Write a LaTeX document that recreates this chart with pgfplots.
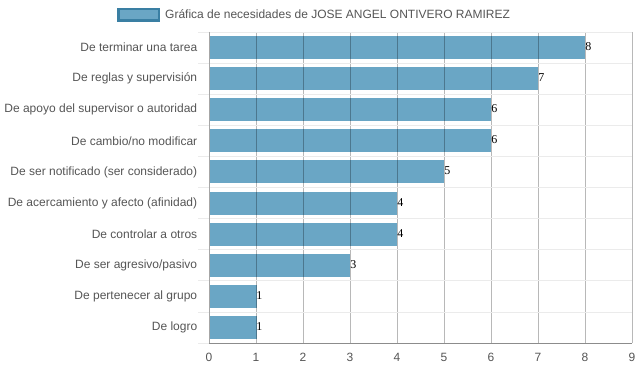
\documentclass[border=0pt]{standalone}
\usepackage{pgfplots}
\pgfplotsset{compat=1.18}
\usepackage{fontspec}
\setmainfont{Liberation Sans}
\newfontfamily\seriffont{Liberation Serif}
\definecolor{barc}{HTML}{6AA6C5}
\definecolor{barb}{HTML}{3A7FA3}
\definecolor{txt}{HTML}{555555}
\begin{document}
\begin{tikzpicture}[x=1pt,y=1pt]
\useasboundingbox (0,0) rectangle (639,372);
\begin{axis}[
  at={(209pt,29pt)}, anchor=south west,
  scale only axis, width=423pt, height=311pt,
  xbar, bar width=22pt,
  xmin=0, xmax=9, ymin=-0.5, ymax=9.5,
  y dir=reverse,
  xtick={0,1,...,9},
  ytick={0,1,...,9},
  yticklabels={De terminar una tarea,De reglas y supervisión,De apoyo del supervisor o autoridad,De cambio/no modificar,De ser notificado (ser considerado),De acercamiento y afecto (afinidad),De controlar a otros,De ser agresivo/pasivo,De pertenecer al grupo,De logro},
  minor ytick={-0.5,0.5,...,9.5},
  xmajorgrids=true, yminorgrids=true,
  major grid style={draw=black, opacity=0.28, line width=0.8pt},
  minor grid style={draw=black!8, line width=0.8pt},
  major y tick style={draw=none},
  minor y tick style={draw=black!8, line width=0.8pt},
  minor tick length=11pt,
  major x tick style={draw=none},
  axis x line*=bottom, axis y line*=left,
  x axis line style={-, draw=black!45},
  y axis line style={-, draw=black!35},
  tick label style={font=\fontsize{12}{14}\selectfont, text=txt},
  yticklabel style={xshift=-4pt},
  xticklabel style={yshift=-7pt},
  /pgf/number format/assume math mode=true,
  axis on top,
  nodes near coords,
  every node near coord/.append style={font=\seriffont\fontsize{12}{14}\selectfont, text=black, anchor=west, xshift=-3pt, yshift=1pt},
]
\addplot[fill=barc, draw=barc, line width=0pt] coordinates {
 (8,0) (7,1) (6,2) (6,3) (5,4) (4,5) (4,6) (3,7) (1,8) (1,9)};
\end{axis}
\fill[barb] (117,350) rectangle (160,364);
\fill[barc] (119.5,352.5) rectangle (157.5,361.5);
\node[anchor=west, font=\fontsize{12}{14}\selectfont, text=txt, inner sep=0pt] at (165,357.5) {Gráfica de necesidades de JOSE ANGEL ONTIVERO RAMIREZ};
\end{tikzpicture}
\end{document}
